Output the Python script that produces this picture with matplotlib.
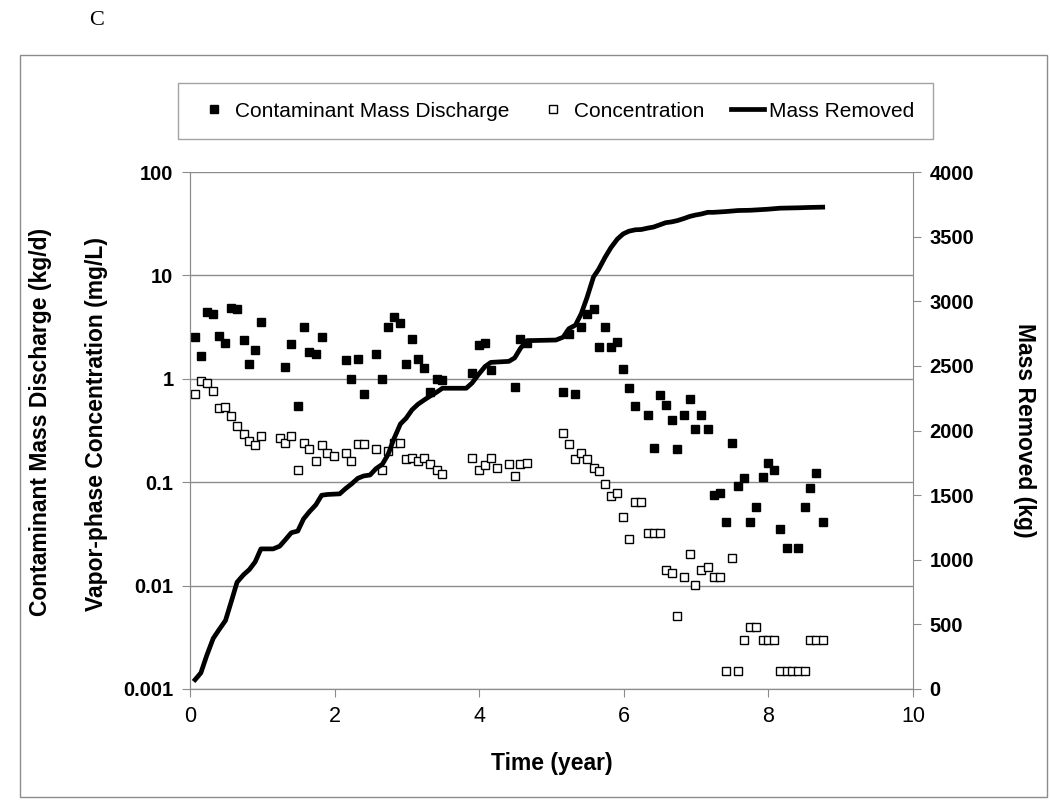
import matplotlib
matplotlib.use('Agg')
import matplotlib.pyplot as plt
from matplotlib.patches import Rectangle
from matplotlib.ticker import FixedLocator, NullLocator, FuncFormatter

plt.rcParams['font.family'] = ['Liberation Sans', 'DejaVu Sans']

# contaminant mass discharge (kg/d)
t_discharge = [0.07, 0.15, 0.23, 0.32, 0.40, 0.49, 0.57, 0.65, 0.74, 0.82, 0.90, 0.98,
               1.32, 1.40, 1.49, 1.57, 1.65, 1.74, 1.82, 2.15, 2.23, 2.32, 2.40, 2.57,
               2.66, 2.74, 2.82, 2.91, 2.99, 3.07, 3.15, 3.24, 3.32, 3.41, 3.49, 3.90,
               3.99, 4.08, 4.16, 4.49, 4.57, 4.66, 5.16, 5.24, 5.33, 5.41, 5.49, 5.58,
               5.65, 5.74, 5.82, 5.91, 5.99, 6.07, 6.16, 6.33, 6.41, 6.50, 6.58, 6.66,
               6.74, 6.83, 6.91, 6.99, 7.07, 7.16, 7.24, 7.33, 7.41, 7.49, 7.58, 7.66,
               7.75, 7.83, 7.92, 7.99, 8.08, 8.16, 8.25, 8.41, 8.50, 8.58, 8.66, 8.75]
discharge = [2.56, 1.66, 4.42, 4.25, 2.60, 2.20, 4.84, 4.73, 2.36, 1.38, 1.89, 3.51,
             1.31, 2.18, 0.55, 3.20, 1.80, 1.75, 2.51, 1.51, 1.00, 1.56, 0.72, 1.72,
             0.99, 3.20, 4.00, 3.48, 1.39, 2.43, 1.54, 1.28, 0.75, 1.00, 0.98, 1.15,
             2.10, 2.23, 1.21, 0.83, 2.43, 2.23, 0.75, 2.69, 0.71, 3.20, 4.28, 4.77,
             2.05, 3.20, 2.04, 2.25, 1.24, 0.81, 0.54, 0.45, 0.215, 0.69, 0.56, 0.40,
             0.21, 0.45, 0.64, 0.33, 0.45, 0.33, 0.075, 0.078, 0.041, 0.239, 0.091, 0.109,
             0.041, 0.057, 0.112, 0.152, 0.132, 0.035, 0.023, 0.023, 0.057, 0.087, 0.123, 0.041]

# vapor-phase concentration (mg/L)
t_conc = [0.07, 0.15, 0.23, 0.32, 0.40, 0.49, 0.57, 0.65, 0.74, 0.82, 0.90, 0.98,
          1.24, 1.32, 1.40, 1.49, 1.57, 1.65, 1.74, 1.82, 1.90, 1.99, 2.15, 2.23,
          2.32, 2.40, 2.57, 2.66, 2.74, 2.82, 2.91, 2.99, 3.07, 3.15, 3.24, 3.32,
          3.41, 3.49, 3.90, 3.99, 4.08, 4.16, 4.24, 4.41, 4.49, 4.57, 4.66, 5.16,
          5.24, 5.33, 5.41, 5.49, 5.58, 5.65, 5.74, 5.82, 5.91, 5.99, 6.07, 6.16,
          6.24, 6.33, 6.41, 6.50, 6.58, 6.66, 6.74, 6.83, 6.91, 6.99, 7.07, 7.16,
          7.24, 7.33, 7.41, 7.49, 7.58, 7.66, 7.75, 7.83, 7.92, 7.99, 8.08, 8.16,
          8.25, 8.33, 8.41, 8.50, 8.58, 8.66, 8.75]
conc = [0.71, 0.95, 0.92, 0.77, 0.52, 0.53, 0.44, 0.35, 0.29, 0.25, 0.23, 0.28,
        0.27, 0.24, 0.28, 0.13, 0.24, 0.21, 0.16, 0.23, 0.19, 0.18, 0.19, 0.16,
        0.235, 0.235, 0.21, 0.13, 0.20, 0.24, 0.24, 0.167, 0.172, 0.162, 0.17, 0.15,
        0.13, 0.12, 0.17, 0.13, 0.146, 0.17, 0.138, 0.149, 0.115, 0.149, 0.152, 0.30,
        0.235, 0.167, 0.19, 0.167, 0.136, 0.127, 0.096, 0.074, 0.079, 0.046, 0.028, 0.064,
        0.064, 0.032, 0.032, 0.032, 0.0143, 0.0133, 0.0051, 0.0122, 0.0203, 0.0102, 0.0143, 0.0153,
        0.0122, 0.0122, 0.0015, 0.0184, 0.0015, 0.003, 0.004, 0.004, 0.003, 0.003, 0.003, 0.0015,
        0.0015, 0.0015, 0.0015, 0.0015, 0.003, 0.003, 0.003]

# cumulative mass removed (kg)
t_mass = [0.07, 0.15, 0.23, 0.32, 0.40, 0.49, 0.57, 0.65, 0.74, 0.82, 0.90, 0.98,
          1.15, 1.24, 1.32, 1.40, 1.49, 1.57, 1.65, 1.74, 1.82, 1.90, 2.07, 2.15,
          2.23, 2.32, 2.40, 2.49, 2.57, 2.66, 2.74, 2.82, 2.91, 2.99, 3.07, 3.15,
          3.24, 3.32, 3.41, 3.49, 3.82, 3.90, 3.99, 4.08, 4.16, 4.41, 4.49, 4.57,
          4.66, 5.06, 5.16, 5.24, 5.33, 5.41, 5.49, 5.58, 5.65, 5.74, 5.82, 5.91,
          5.99, 6.07, 6.16, 6.24, 6.33, 6.41, 6.50, 6.58, 6.66, 6.74, 6.83, 6.91,
          6.99, 7.07, 7.16, 7.24, 7.41, 7.58, 7.75, 7.99, 8.16, 8.41, 8.58, 8.75]
mass = [72, 125, 258, 391, 458, 530, 676, 826, 884, 924, 983, 1084,
        1084, 1105, 1156, 1209, 1222, 1316, 1371, 1425, 1499, 1505, 1510, 1550,
        1585, 1630, 1648, 1656, 1704, 1739, 1816, 1936, 2051, 2096, 2160, 2202,
        2237, 2266, 2296, 2327, 2327, 2367, 2434, 2495, 2527, 2535, 2562, 2636,
        2695, 2700, 2722, 2788, 2815, 2903, 3028, 3188, 3246, 3340, 3414, 3481,
        3521, 3542, 3553, 3555, 3566, 3574, 3592, 3608, 3614, 3624, 3640, 3656,
        3667, 3675, 3688, 3688, 3694, 3702, 3704, 3712, 3720, 3723, 3726, 3728]

fig = plt.figure(figsize=(10.5, 8), dpi=100)
ax = fig.add_axes([0.181, 0.13875, 0.6886, 0.64625])
ax2 = ax.twinx()

grey = '#8c8c8c'

ax.plot(t_discharge, discharge, 's', color='black', ms=6.3, ls='none',
        label='Contaminant Mass Discharge')
ax.plot(t_conc, conc, 's', mfc='white', mec='black', mew=1.0, ms=6.3, ls='none',
        label='Concentration')
ax2.plot(t_mass, mass, color='black', lw=3.4, label='Mass Removed')

ax.set_yscale('log')
ax.set_ylim(0.001, 100)
ax.set_xlim(0, 10)
ax2.set_ylim(0, 4000)

ax.yaxis.set_major_locator(FixedLocator([0.001, 0.01, 0.1, 1, 10, 100]))
ax.yaxis.set_minor_locator(NullLocator())
ax.yaxis.set_major_formatter(FuncFormatter(lambda v, p: f'{v:g}'))
ax.set_xticks([0, 2, 4, 6, 8, 10])
ax2.set_yticks(range(0, 4001, 500))

ax.grid(axis='y', color=grey, lw=1)
ax.set_axisbelow(True)

for a in (ax, ax2):
    a.spines['top'].set_visible(False)
    for s in ('left', 'right', 'bottom'):
        a.spines[s].set_color(grey)
ax.spines['right'].set_visible(False)

ax.tick_params(axis='y', direction='out', length=6, color=grey, labelsize=14.5, pad=6)
ax.tick_params(axis='x', direction='out', length=6, color=grey, labelsize=15.5, pad=6)
ax2.tick_params(axis='y', direction='out', length=6, color=grey, labelsize=14.5, pad=6)
for lab in ax.get_yticklabels() + ax2.get_yticklabels():
    lab.set_fontweight('bold')

ax.set_xlabel('Time (year)', fontsize=16.5, fontweight='bold', labelpad=18)
ax2.set_ylabel('Mass Removed (kg)', fontsize=16.5, fontweight='bold',
               rotation=270, labelpad=44)

fig.text(0.039, 0.472, 'Contaminant Mass Discharge (kg/d)', rotation=90,
         fontsize=16.5, fontweight='bold', ha='center', va='center')
fig.text(0.092, 0.47, 'Vapor-phase Concentration (mg/L)', rotation=90,
         fontsize=16.5, fontweight='bold', ha='center', va='center')

fig.text(0.092, 0.974, 'C', family='Liberation Serif', fontsize=16,
         ha='center', va='center')

# outer chart border
fig.patches.append(Rectangle((0.019, 0.004), 0.978, 0.927, transform=fig.transFigure,
                             fill=False, edgecolor=grey, lw=1))

h1, l1 = ax.get_legend_handles_labels()
h2, l2 = ax2.get_legend_handles_labels()
leg = fig.legend(h1 + h2, l1 + l2, loc='center', bbox_to_anchor=(0.529, 0.861),
                 ncol=3, fontsize=15, frameon=True, fancybox=False,
                 edgecolor=grey, handlelength=1.6, handletextpad=0.2,
                 columnspacing=1.3, borderpad=0.9, markerscale=0.85)
leg.get_frame().set_linewidth(1)

fig.savefig('out.png', dpi=100)
